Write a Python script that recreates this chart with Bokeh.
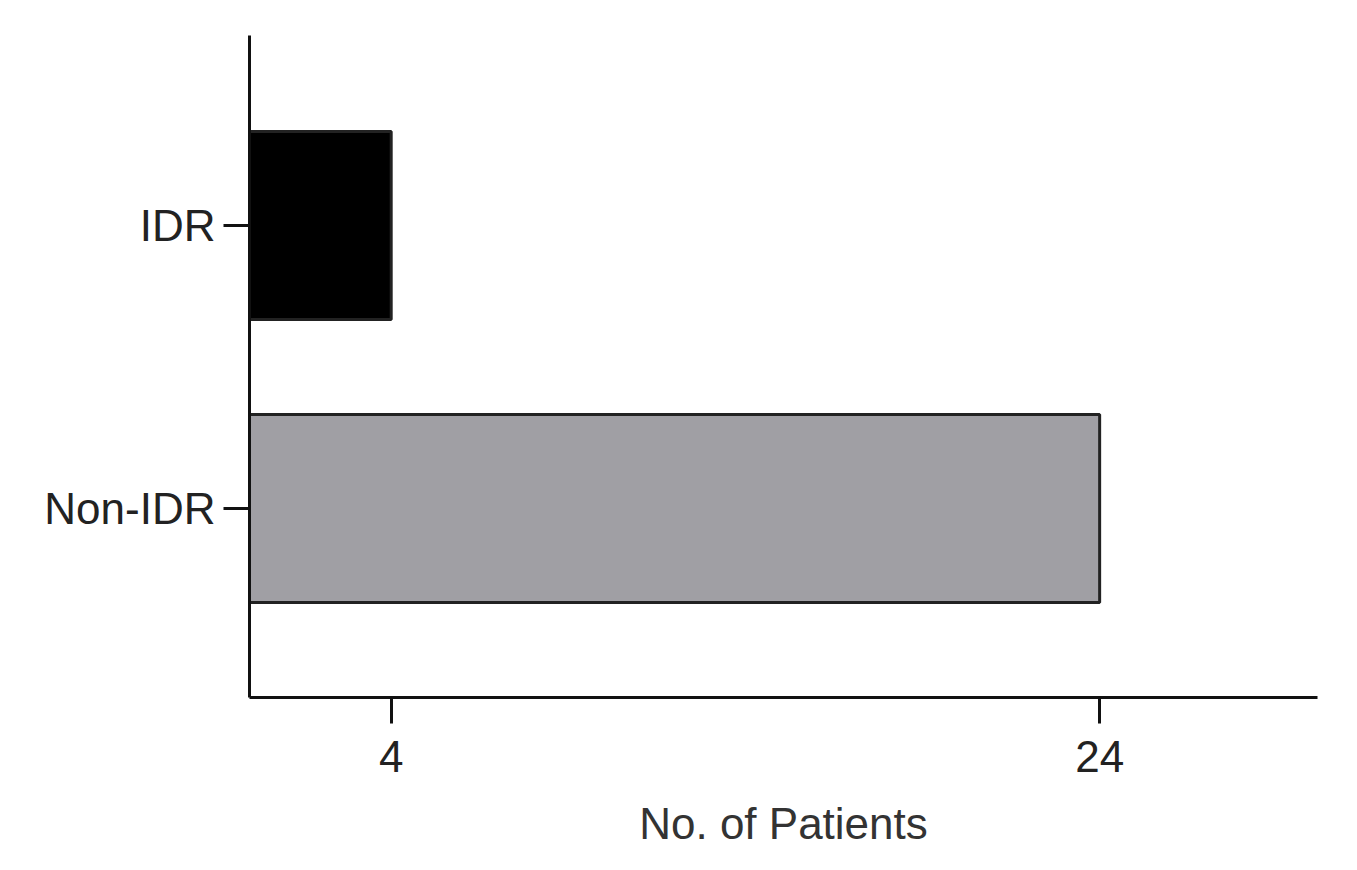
from bokeh.plotting import figure
from bokeh.models import ColumnDataSource, Range1d, FixedTicker
from bokeh.embed import file_html
from bokeh.resources import INLINE

categories = ["Non-IDR", "IDR"]
positions = [1, 2]
patients = [24, 4]
colors = ["#a09fa4", "#000000"]
x_ticks = [4, 24]

source = ColumnDataSource(dict(y=positions, right=patients, color=colors, cat=categories))

p = figure(width=1348, height=868, output_backend="svg", toolbar_location=None,
           x_range=Range1d(0, 30.15), y_range=Range1d(0.332, 2.671),
           min_border_left=249, min_border_right=31, min_border_top=35, min_border_bottom=171)

p.hbar(y="y", left=0, right="right", height=0.664, fill_color="color",
       line_color="#222222", line_width=3, source=source)

font = "Liberation Sans"
for ax in (p.xaxis[0], p.yaxis[0]):
    ax.axis_line_width = 3
    ax.axis_line_color = "#111111"
    ax.major_tick_line_width = 3
    ax.major_tick_line_color = "#111111"
    ax.major_tick_in = 0
    ax.major_tick_out = 26
    ax.minor_tick_line_color = None
    ax.major_label_text_font = font
    ax.major_label_text_font_size = "44px"
    ax.major_label_text_color = "#222222"

p.xaxis.ticker = FixedTicker(ticks=x_ticks)
p.xaxis.major_label_standoff = 17
p.xaxis.axis_label = "No. of Patients"
p.xaxis.axis_label_text_font = font
p.xaxis.axis_label_text_font_size = "44px"
p.xaxis.axis_label_text_font_style = "normal"
p.xaxis.axis_label_text_color = "#333333"
p.xaxis.axis_label_standoff = 24

p.yaxis.ticker = FixedTicker(ticks=positions)
p.yaxis.major_label_overrides = {pos: cat for pos, cat in zip(positions, categories)}
p.yaxis.major_label_standoff = 8

p.xgrid.grid_line_color = None
p.ygrid.grid_line_color = None
p.outline_line_color = None

open("out.html", "w").write(file_html(p, INLINE))
